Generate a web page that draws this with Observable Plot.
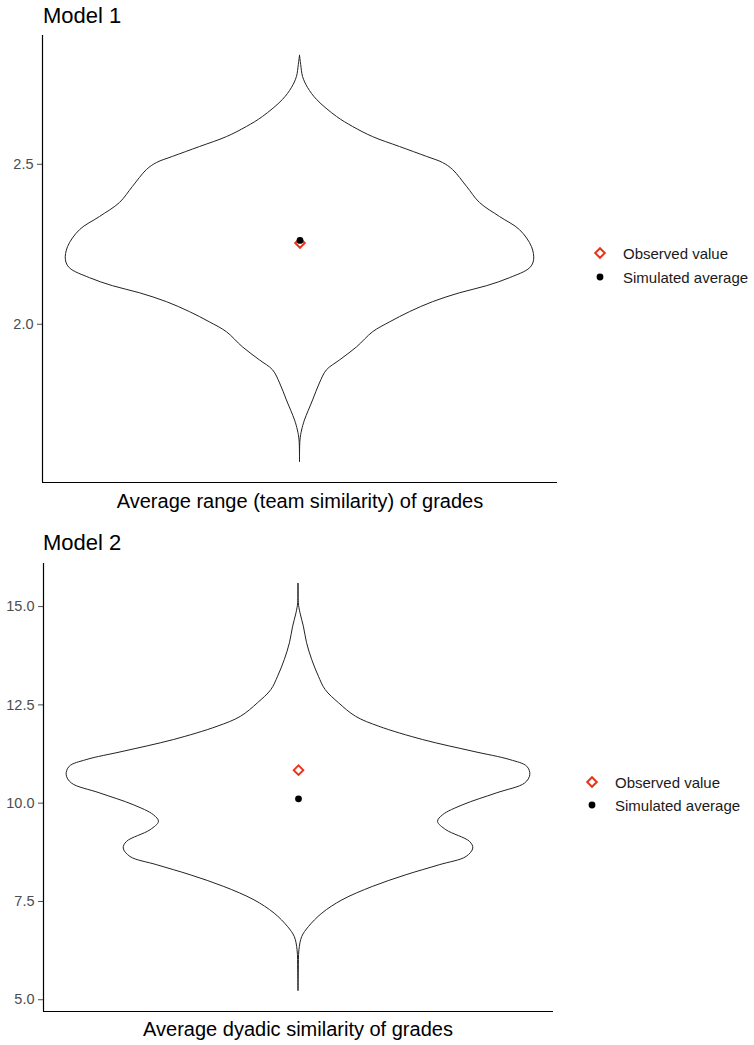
<!DOCTYPE html>
<html><head><meta charset="utf-8">
<script src="https://cdn.jsdelivr.net/npm/d3@7"></script>
<script src="https://cdn.jsdelivr.net/npm/@observablehq/plot@0.6"></script>
<style>
body{margin:0;background:#fff;font-family:"Liberation Sans",Arial,sans-serif;}
#root{position:relative;width:754px;height:1045px;overflow:hidden;background:#fff;}
.abs{position:absolute;line-height:1;white-space:nowrap;}
svg text{font-family:"Liberation Sans",Arial,sans-serif;}
</style></head><body><div id="root"></div>
<script>
// ---- Model 1 data ----
const model1Values = [2.839, 2.811, 2.773, 2.739, 2.701, 2.648, 2.617, 2.585, 2.554, 2.523, 2.504, 2.482, 2.429, 2.379, 2.335, 2.294, 2.241, 2.200, 2.175, 2.144, 2.119, 2.097, 2.069, 2.038, 2.006, 1.975, 1.928, 1.887, 1.856, 1.815, 1.762, 1.699, 1.668, 1.637, 1.569];
const model1Density = [0, 0.005, 0.013, 0.034, 0.073, 0.158, 0.226, 0.312, 0.427, 0.543, 0.611, 0.654, 0.714, 0.769, 0.855, 0.940, 0.991, 1.0, 0.983, 0.897, 0.799, 0.684, 0.568, 0.470, 0.385, 0.312, 0.244, 0.171, 0.115, 0.085, 0.056, 0.021, 0.009, 0.002, 0];
const model1Observed = 2.254;
const model1Simulated = 2.262;
const model1Ticks = [2.0, 2.5];

// ---- Model 2 data ----
const model2Values = [15.578, 15.087, 14.832, 14.491, 14.068, 13.643, 13.217, 12.878, 12.540, 12.198, 11.943, 11.605, 11.307, 11.095, 10.925, 10.713, 10.502, 10.247, 9.949, 9.694, 9.524, 9.312, 9.014, 8.846, 8.632, 8.421, 8.166, 7.868, 7.529, 7.191, 6.849, 6.594, 6.256, 5.746, 5.219];
const model2Density = [0, 0.0013, 0.0085, 0.023, 0.037, 0.059, 0.088, 0.117, 0.175, 0.248, 0.349, 0.538, 0.755, 0.914, 0.987, 1.0, 0.978, 0.855, 0.711, 0.624, 0.602, 0.638, 0.740, 0.754, 0.725, 0.609, 0.465, 0.320, 0.190, 0.103, 0.045, 0.016, 0.004, 0.0013, 0];
const model2Observed = 10.84;
const model2Simulated = 10.11;
const model2Ticks = [5.0, 7.5, 10.0, 12.5, 15.0];

const titles = ["Model 1", "Model 2"];
const xLabels = ["Average range (team similarity) of grades", "Average dyadic similarity of grades"];
const legendLabels = ["Observed value", "Simulated average"];

const RED = "#e8341c";
const root = document.getElementById("root");

function addText(txt, x, baseline, fs, color, center) {
  const d = document.createElement("div");
  d.className = "abs";
  d.textContent = txt;
  d.style.fontSize = fs + "px";
  d.style.color = color;
  d.style.top = (baseline - 0.8465 * fs) + "px";
  d.style.left = x + "px";
  if (center) d.style.transform = "translateX(-50%)";
  root.appendChild(d);
}

function panel(values, density, observed, simulated, ticks, opts) {
  const table = values.map((v, i) => ({v, w: density[i]}));
  const all = values.concat([observed, simulated]);
  const lo = d3.min(all), hi = d3.max(all), pad = (hi - lo) * 0.05;
  const yDomain = [lo - pad, hi + pad];
  const xDomain = [-1.1, 1.1];
  const svg = Plot.plot({
    width: opts.width, height: opts.height,
    marginLeft: opts.ml, marginRight: opts.mr, marginTop: opts.mt, marginBottom: opts.mb,
    x: {domain: xDomain, axis: null},
    y: {domain: yDomain, axis: null},
    style: {background: "transparent", overflow: "visible"},
    marks: [
      Plot.areaX(table, {y: "v", x1: d => -d.w, x2: d => d.w, fill: "white", stroke: "#222", strokeWidth: 1, curve: "catmull-rom"}),
      Plot.dot([observed], {x: () => 0, y: d => d, symbol: "diamond2", r: 4.3, stroke: RED, strokeWidth: 2, fill: "none"}),
      Plot.dot([simulated], {x: () => 0, y: d => d, r: 3.4, fill: "black", stroke: "none"}),
      Plot.axisY({ticks, tickFormat: d3.format(".1f"), tickSize: 5, tickPadding: 4, fontSize: 14.5, color: "#4d4d4d", label: null}),
      Plot.ruleX([xDomain[0]], {stroke: "black", strokeWidth: 1.2}),
      Plot.ruleY([yDomain[0]], {stroke: "black", strokeWidth: 1.2})
    ]
  });
  svg.style.position = "absolute";
  svg.style.left = "0px";
  svg.style.top = opts.top + "px";
  root.appendChild(svg);
}

function legend(x, y1, y2) {
  const ns = "http://www.w3.org/2000/svg";
  const s = document.createElementNS(ns, "svg");
  s.setAttribute("width", 30); s.setAttribute("height", 60);
  s.style.position = "absolute"; s.style.left = (x - 15) + "px"; s.style.top = (y1 - 15) + "px";
  const dia = document.createElementNS(ns, "path");
  const r = 4.8;
  dia.setAttribute("d", `M15,${15 - r}L${15 + r},15L15,${15 + r}L${15 - r},15Z`);
  dia.setAttribute("fill", "none"); dia.setAttribute("stroke", RED); dia.setAttribute("stroke-width", 2);
  s.appendChild(dia);
  const c = document.createElementNS(ns, "circle");
  c.setAttribute("cx", 15); c.setAttribute("cy", 15 + (y2 - y1)); c.setAttribute("r", 3.4); c.setAttribute("fill", "black");
  s.appendChild(c);
  root.appendChild(s);
  addText(legendLabels[0], x + 23, y1 + 5.4, 15, "#1a1a1a", false);
  addText(legendLabels[1], x + 23, y2 + 5.4, 15, "#1a1a1a", false);
}

// Panel 1
panel(model1Values, model1Density, model1Observed, model1Simulated, model1Ticks,
  {top: 0, width: 600, height: 490, ml: 42, mr: 43, mt: 35, mb: 8});
addText(titles[0], 43, 23.3, 22, "#000", false);
addText(xLabels[0], 300, 508, 20, "#000", true);
legend(600, 253, 277);

// Panel 2
panel(model2Values, model2Density, model2Observed, model2Simulated, model2Ticks,
  {top: 528, width: 600, height: 490, ml: 43, mr: 47, mt: 35, mb: 7});
addText(titles[1], 43, 550.7, 22, "#000", false);
addText(xLabels[1], 298, 1036, 20, "#000", true);
legend(592, 782, 805);
</script>
</body></html>
